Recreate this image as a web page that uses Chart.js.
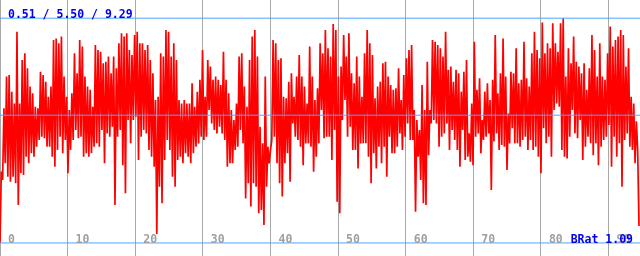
<!DOCTYPE html>
<html>
<head>
<meta charset="utf-8">
<script src="https://cdn.jsdelivr.net/npm/chart.js@4.4.1/dist/chart.umd.min.js"></script>
<style>
html, body { margin: 0; padding: 0; background: #fff; }
#wrap { width: 640px; height: 256px; position: relative; }
</style>
</head>
<body>
<div id="wrap"><canvas id="brChart"></canvas></div>
<script>
// ratio samples (left to right)
const block1 = [0.51,3.30, 2.97,5.77, 3.62,7.01, 3.10,7.07, 2.90,6.42, 3.10,5.96, 2.84,8.76, 1.99,5.96, 3.23,7.66, 3.16,7.92, 3.88,7.33, 3.62,6.62, 4.01,6.36, 3.88,5.83, 4.27,5.77, 4.53,7.20, 4.66,7.07, 4.60,6.81, 4.27,6.22, 4.27,6.62, 3.88,8.44, 3.49,8.50, 4.14,8.31, 4.66,8.57, 4.01,7.01, 4.53,6.22, 3.23,5.70, 4.14,6.36, 4.53,7.92, 4.92,7.14, 4.60,8.44, 4.66,8.18, 3.88,7.01, 4.01,6.62, 3.88,6.49, 4.01,5.83];
const block2 = [4.27,8.24, 4.40,8.05, 4.27,7.98, 4.92,7.53, 3.62,7.59, 4.79,7.79, 4.66,7.14, 5.05,7.79, 1.99,7.33, 4.66,8.31, 4.92,8.70, 3.55,8.57, 2.45,8.70, 5.31,8.05, 4.40,7.85, 5.31,8.63, 5.44,8.76, 3.75,8.31, 4.66,8.31, 4.92,8.05, 4.79,8.24, 4.14,7.66, 3.88,7.14, 3.49,6.09, 0.86,6.22, 2.71,7.92, 2.06,7.79, 3.75,8.83, 4.53,8.76, 4.14,7.79, 3.10,8.31, 2.71,7.66, 3.75,6.09, 3.88,5.96, 3.62,6.09, 4.01,5.96];
const block3 = [3.88,5.96, 3.62,6.75, 4.01,5.83, 4.27,6.42, 4.40,6.88, 4.66,8.05, 4.53,6.22, 4.66,7.66, 5.70,7.40, 5.18,6.88, 4.92,7.01, 4.79,6.88, 5.05,6.68, 4.79,7.98, 4.53,6.88, 3.49,6.36, 3.62,5.70, 3.62,5.31, 4.14,5.96, 4.27,7.79, 4.92,7.92, 4.40,6.62, 2.25,5.83, 2.84,7.66, 1.93,8.57, 2.84,8.83, 2.71,7.79, 1.67,5.05, 1.80,4.40, 1.21,7.01, 2.71,4.27, 3.62,4.14, 4.53,8.44, 4.66,8.31, 3.62,7.66];
const block4 = [2.84,7.72, 2.32,6.22, 3.62,6.16, 4.01,6.81, 2.90,7.14, 5.18,6.22, 4.66,7.01, 4.53,7.85, 4.27,7.01, 3.55,6.62, 4.40,5.96, 4.40,8.18, 4.27,7.01, 3.29,6.09, 3.88,6.55, 4.40,8.31, 5.70,7.92, 4.60,8.83, 4.66,8.11, 4.66,7.79, 3.75,9.06, 4.92,8.83, 2.12,7.01, 1.67,7.40, 5.31,8.63, 6.09,7.79, 4.66,8.70, 5.05,7.14, 4.14,6.75, 4.14,7.79, 3.42,7.01, 4.40,6.22, 4.40,7.92, 4.40,8.83, 3.88,8.31];
const block5 = [2.84,7.85, 4.01,6.16, 3.42,6.62, 4.27,6.81, 3.62,7.53, 4.27,7.59, 3.10,7.01, 4.66,6.68, 4.01,6.49, 4.01,6.55, 4.27,7.33, 4.79,6.09, 4.14,7.07, 4.66,7.72, 5.18,8.05, 4.53,8.24, 4.53,5.70, 1.73,5.31, 3.88,4.92, 2.97,6.68, 2.06,5.70, 1.99,7.59, 3.94,5.70, 5.18,8.44, 5.31,8.37, 5.18,8.24, 4.27,8.11, 4.66,7.79, 4.79,8.76, 5.18,7.27, 4.14,7.40, 4.92,6.81, 4.53,7.27, 4.14,7.14, 3.49,6.42];
const block6 = [4.92,7.20, 3.75,7.66, 3.88,4.79, 3.68,5.96, 3.55,8.37, 4.66,6.49, 4.79,6.94, 4.01,5.31, 4.53,6.42, 4.66,6.75, 4.79,6.09, 2.58,6.88, 4.47,8.63, 4.79,6.36, 4.14,7.14, 4.34,8.50, 4.27,7.01, 3.36,5.57, 4.40,7.20, 4.99,7.14, 4.40,8.11, 4.40,6.75, 4.27,6.88, 4.53,8.37, 4.66,6.94, 4.14,6.62, 4.53,7.92, 4.14,8.76, 4.27,8.05, 3.88,7.72, 3.23,9.12, 4.99,7.92, 4.40,8.31, 4.66,8.11, 3.88,9.09];
const block7 = [5.70,8.31, 5.96,7.98, 5.83,9.09, 4.14,9.29, 3.88,7.01, 3.81,8.11, 4.66,7.53, 5.70,8.57, 4.79,7.59, 4.60,7.40, 5.31,7.14, 3.75,7.53, 4.27,6.49, 4.66,7.33, 4.40,8.63, 3.94,8.05, 4.40,7.01, 3.55,8.31, 4.27,7.01, 4.53,6.88, 4.66,7.92, 5.12,8.96, 3.49,8.18, 4.66,8.44, 3.88,8.57, 4.40,8.83, 2.71,8.63, 4.53,7.40, 4.79,8.11, 4.27,6.22, 4.14,5.96, 3.62,5.26, 4.14,1.17];

const levels = [0.51, 5.50, 9.29];   // min / mean / max
const bRatio = 1.09;
const xRange = [0, 94.65];
const xLast = 94.5;
const yRange = [0, 10];

const series = [].concat(block1, block2, block3, block4, block5, block6, block7);
const points = series.map((v, i) => ({ x: i * xLast / (series.length - 1), y: v }));

const overlayText = {
    id: 'overlayText',
    afterDraw(chart) {
        const ctx = chart.ctx;
        const xs = chart.scales.x;
        const area = chart.chartArea;
        ctx.save();
        ctx.font = 'bold 11.5px "DejaVu Sans Mono"';
        ctx.textBaseline = 'middle';
        ctx.textAlign = 'left';
        ctx.fillStyle = '#a0a0a0';
        xs.ticks.forEach(t => {
            ctx.fillText(String(t.value), xs.getPixelForValue(t.value) + 8, area.bottom - 15.5);
        });
        ctx.fillStyle = '#0000ee';
        ctx.fillText(levels.map(v => v.toFixed(2)).join(' / '), area.left + 8, area.top + 15);
        ctx.textAlign = 'right';
        ctx.fillText('BRat ' + bRatio.toFixed(2), area.right - 7, area.bottom - 15.5);
        ctx.restore();
    }
};

const levelSets = levels.map(v => ({
    data: [{ x: xRange[0], y: v }, { x: xRange[1], y: v }],
    borderColor: '#4da6ff',
    borderWidth: 1,
    pointRadius: 0,
    order: 0
}));

new Chart(document.getElementById('brChart'), {
    type: 'line',
    data: {
        datasets: [
            ...levelSets,
            {
                data: points,
                borderColor: '#ff0000',
                borderWidth: 1.7,
                borderJoinStyle: 'bevel',
                pointRadius: 0,
                tension: 0,
                order: 1
            }
        ]
    },
    options: {
        responsive: true,
        maintainAspectRatio: false,
        animation: false,
        events: [],
        layout: { padding: 0 },
        plugins: {
            legend: { display: false },
            tooltip: { enabled: false }
        },
        scales: {
            x: {
                type: 'linear',
                min: xRange[0],
                max: xRange[1],
                ticks: { display: false, stepSize: 10, includeBounds: false },
                grid: { color: '#a8a8a8', lineWidth: 1, drawTicks: false },
                border: { display: false }
            },
            y: {
                display: false,
                min: yRange[0],
                max: yRange[1]
            }
        }
    },
    plugins: [overlayText]
});
</script>
</body>
</html>
